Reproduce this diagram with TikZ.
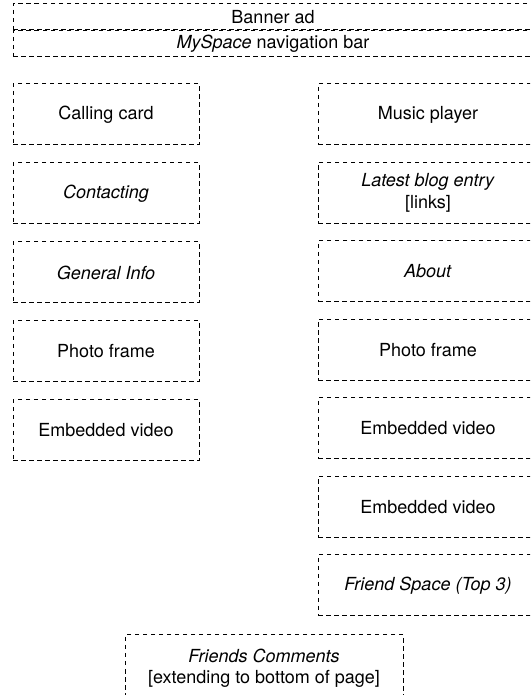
\documentclass[tikz,border=0pt]{standalone}
\usepackage{fontspec}
\setmainfont{TeX Gyre Heros}
\usepackage{tikz}
\usetikzlibrary{positioning}

\begin{document}
\begin{tikzpicture}[
        x=1pt, y=1pt,
        font=\fontsize{18}{21.5}\selectfont,
        region/.style={rectangle, draw, dash pattern=on 4.5pt off 3.5pt, line width=1pt, inner sep=0pt, align=center},
        bar/.style={region, minimum width=520pt, minimum height=26pt},
        leftbox/.style={region, minimum width=186pt, minimum height=61pt},
        rightbox/.style={region, minimum width=220pt, minimum height=61pt}
    ]
        \clip (0,0) rectangle (530,695);

        % Header
        \node[bar] (Banner) at (273,678) {Banner ad};
        \node[bar, below=0pt of Banner] (NavBar) {\textit{MySpace} navigation bar};

        % Left column
        \node[leftbox] (CallingCard) at (106,580.5) {Calling card};
        \node[leftbox, below=17pt of CallingCard] (Contacting) {\textit{Contacting}};
        \node[leftbox, below=17pt of Contacting] (GeneralInfo) {\textit{General Info}};
        \node[leftbox, below=17pt of GeneralInfo] (PhotoLeft) {Photo frame};
        \node[leftbox, below=17pt of PhotoLeft] (VideoLeft) {Embedded video};

        % Right column
        \node[rightbox] (MusicPlayer) at (428,580.5) {Music player};
        \node[rightbox, below=16.5pt of MusicPlayer] (BlogEntry) {\textit{Latest blog entry}\\{[links]}};
        \node[rightbox, below=16.5pt of BlogEntry] (About) {\textit{About}};
        \node[rightbox, below=16.5pt of About] (PhotoRight) {Photo frame};
        \node[rightbox, below=16.5pt of PhotoRight] (VideoRightA) {Embedded video};
        \node[rightbox, below=16.5pt of VideoRightA] (VideoRightB) {Embedded video};
        \node[rightbox, below=16.5pt of VideoRightB] (FriendSpace) {\textit{Friend Space (Top 3)}};

        % Comments
        \node[region, minimum width=278pt, minimum height=66pt] (Comments) at (264,27) {\textit{Friends Comments}\\{[extending to bottom of page]}};

    \end{tikzpicture}
\end{document}
